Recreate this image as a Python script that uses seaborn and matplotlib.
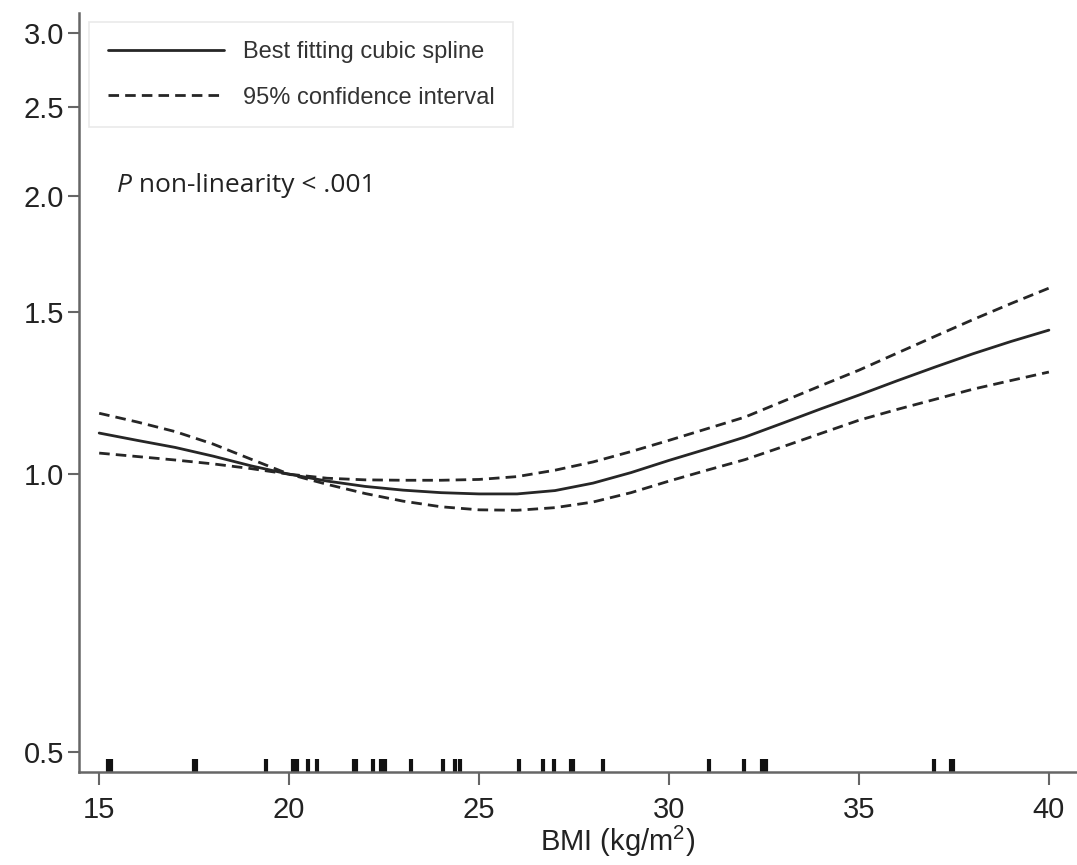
import numpy as np
import pandas as pd
import seaborn as sns
import matplotlib.pyplot as plt

sns.set_style("ticks")
plt.rcParams["font.family"] = ["Liberation Sans", "DejaVu Sans"]
plt.rcParams["mathtext.fontset"] = "custom"
plt.rcParams["mathtext.rm"] = "Liberation Sans"
plt.rcParams["mathtext.it"] = "Liberation Sans:italic"

# values (relative risk, log scale)
bmi = list(range(15, 41))
spline = [1.108, 1.088, 1.069, 1.046, 1.021, 1.000, 0.983, 0.970, 0.961, 0.955,
          0.952, 0.952, 0.960, 0.978, 1.004, 1.035, 1.065, 1.097, 1.136, 1.177,
          1.218, 1.262, 1.306, 1.350, 1.392, 1.432]
ci_upper = [1.164, 1.139, 1.112, 1.078, 1.038, 1.000, 0.990, 0.986, 0.985, 0.985,
            0.987, 0.994, 1.010, 1.031, 1.058, 1.088, 1.120, 1.153, 1.199, 1.247,
            1.296, 1.352, 1.410, 1.470, 1.530, 1.590]
ci_lower = [1.054, 1.045, 1.036, 1.026, 1.014, 1.000, 0.975, 0.953, 0.935, 0.922,
            0.915, 0.914, 0.920, 0.933, 0.955, 0.983, 1.010, 1.037, 1.071, 1.107,
            1.144, 1.175, 1.205, 1.236, 1.263, 1.290]

# observed BMI values (rug)
rug_bmi = [15.22, 15.3, 17.5, 17.56, 19.39, 20.1, 20.2, 20.5, 20.74, 21.7, 21.77,
           22.21, 22.42, 22.47, 22.52, 23.21, 24.05, 24.37, 24.5, 26.05, 26.68,
           26.97, 27.42, 27.48, 28.26, 31.05, 31.97, 32.44, 32.5, 32.56, 36.97, 37.42, 37.48]

y_ticks = [0.5, 1.0, 1.5, 2.0, 2.5, 3.0]
x_ticks = [15, 20, 25, 30, 35, 40]

df = pd.DataFrame({"bmi": bmi, "spline": spline, "upper": ci_upper, "lower": ci_lower})
rug = pd.DataFrame({"bmi": rug_bmi})

fig = plt.figure(figsize=(10.77, 8.65), dpi=100)
ax = fig.add_axes([0.0734, 0.1075, 0.9266, 0.8775])

line_col = "#262626"
sns.lineplot(data=df, x="bmi", y="spline", ax=ax, color=line_col, lw=2.0,
             label="Best fitting cubic spline")
sns.lineplot(data=df, x="bmi", y="upper", ax=ax, color=line_col, lw=2.0,
             label="95% confidence interval")
sns.lineplot(data=df, x="bmi", y="lower", ax=ax, color=line_col, lw=2.0)
for ln in ax.lines[1:3]:
    ln.set_dashes((3.8, 2.2))

sns.rugplot(data=rug, x="bmi", ax=ax, height=0.017, color="#111111", linewidth=3)

ax.set_yscale("log")
ax.set_xlim(14.47, 40.74)
ax.set_ylim(0.476, 3.157)
ax.set_yticks(y_ticks)
ax.set_yticklabels([f"{t:.1f}" for t in y_ticks])
ax.minorticks_off()
ax.set_xticks(x_ticks)
ax.set_ylabel("")
ax.set_xlabel("BMI (kg/m$^2$)", fontsize=21, color="#222222")
ax.xaxis.set_label_coords(0.54, -0.068)

sns.despine(ax=ax)
for side in ["left", "bottom"]:
    ax.spines[side].set_color("#666666")
    ax.spines[side].set_linewidth(1.8)
ax.tick_params(axis="x", length=9.5, width=1.5, color="#666666", labelsize=21,
               labelcolor="#222222", pad=8)
ax.tick_params(axis="y", length=8, width=1.5, color="#666666", labelsize=21,
               labelcolor="#222222", pad=3)

leg = ax.legend(loc="upper left", bbox_to_anchor=(0.01, 0.988), borderaxespad=0,
                fontsize=17, handlelength=4.9, handletextpad=0.8, labelspacing=1.0,
                borderpad=0.8, fancybox=False, frameon=True)
leg.get_frame().set_edgecolor("#e4e4e4")
leg.get_frame().set_linewidth(1.2)
for t in leg.get_texts():
    t.set_color("#333333")

p = ax.text(0.038, 0.764, "P", transform=ax.transAxes, fontsize=19, style="italic",
            family=["Open Sans", "DejaVu Sans"], va="baseline", color="#222222")
ax.annotate(" non-linearity < .001", xy=(1, 0), xycoords=p, va="bottom",
            fontsize=19, family=["Open Sans", "DejaVu Sans"], color="#222222")

fig.savefig("out.png", dpi=100)
